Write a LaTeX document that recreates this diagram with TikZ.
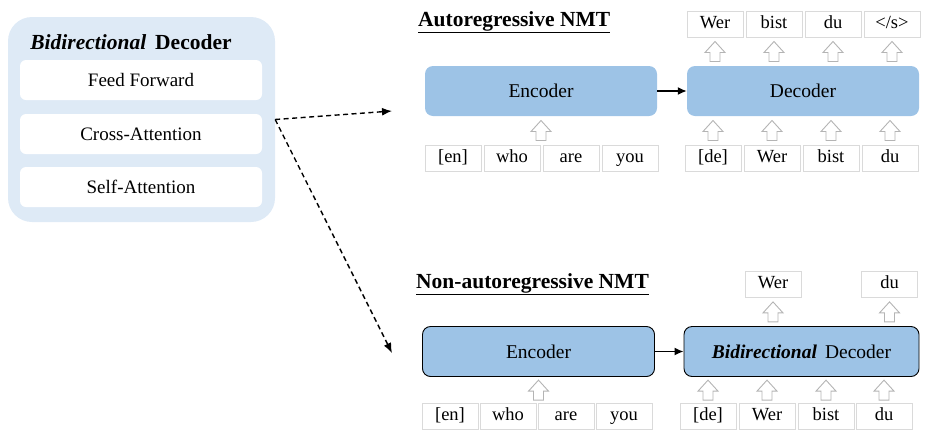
\documentclass[tikz,border=0pt]{standalone}
\usepackage{fontspec}
\setmainfont{Liberation Serif}
\usepackage{tikz}
\usetikzlibrary{arrows.meta}
\usetikzlibrary{positioning}
\usetikzlibrary{calc}

\definecolor{paleblue}{HTML}{DEEAF6}
\definecolor{blockblue}{HTML}{9DC3E6}
\definecolor{tokline}{HTML}{DADADA}
\definecolor{arrline}{HTML}{B4B4B4}

\tikzset{
	bigbox/.style={fill=paleblue,rounded corners=24pt,minimum width=267pt,minimum height=205pt},
	layer/.style={fill=white,rounded corners=6pt,minimum width=242pt,minimum height=40pt,font=\fontsize{19}{22}\selectfont},
	block/.style={fill=blockblue,rounded corners=8pt,minimum width=232pt,minimum height=50pt,font=\fontsize{19.5}{22}\selectfont},
	nblock/.style={block,draw=black,line width=0.9pt},
	tok/.style={draw=tokline,fill=white,minimum width=56pt,minimum height=26pt,inner sep=0pt,
		text height=12pt,text depth=4pt,font=\fontsize{18.5}{21}\selectfont},
	heading/.style={font=\bfseries\fontsize{21.5}{24}\selectfont,inner sep=0pt},
	dasharr/.style={dash pattern=on 5pt off 3.5pt,line width=1.4pt,-{Latex[length=10pt,width=8pt]}},
	solidarr/.style={line width=1.5pt,-{Latex[length=9pt,width=8pt]}},
	uparr/.pic={\draw[arrline,fill=white,line width=0.9pt,line join=miter]
		(-5,10) -- (-5,1) -- (-10,1) -- (0,-10) -- (10,1) -- (5,1) -- (5,10) -- cycle;}
}

\begin{document}
\begin{tikzpicture}
		[x=1pt,y=-1pt]
		\useasboundingbox (0,0) rectangle (939,440);
		
		% left: decoder layers
		\node[bigbox] (bd) at (141.5,119.5) {};
		\node[font=\bfseries\fontsize{21.5}{24}\selectfont] (bdt) at (131,42) {\textit{Bidirectional}\, Decoder};
		\node[layer] (ff) at (141,80) {Feed Forward};
		\node[layer] (ca) at (141,134) {Cross-Attention};
		\node[layer] (sa) at (141,187) {Self-Attention};
		
		\coordinate (toar) at (392,111);
		\coordinate (tonar) at (392,353);
		\draw[dasharr] (bd.east) -- (toar);
		\draw[dasharr] (bd.east) -- (tonar);
		
		% autoregressive
		\node[heading,anchor=west] (arh) at (418,22) {\underline{Autoregressive NMT}};
		\node[block] (aenc) at (541,91) {Encoder};
		\node[block] (adec) at (803,91) {Decoder};
		\draw[solidarr] (aenc) -- (adec);
		
		\foreach \w [count=\i] in {[en],who,are,you}
		\node[tok] (ai\i) at ({394+59*\i},158) {\w};
		\foreach \w [count=\i] in {[de],Wer,bist,du}
		\node[tok] (di\i) at ({654+59*\i},158) {\w};
		\foreach \w [count=\i] in {Wer,bist,du,{</s>}}
		\node[tok] (do\i) at ({656+59*\i},24) {\w};
		
		\pic at ($(aenc.south)!0.5!(aenc.south |- ai1.north)$) {uparr};
		\foreach \i in {1,...,4}
		{
		\pic at ($(di\i.north)!0.5!(di\i.north |- adec.south)$) {uparr};
		\pic at ($(do\i.south)!0.5!(do\i.south |- adec.north)$) {uparr};
		}
		
		% non-autoregressive
		\node[heading,anchor=west] (narh) at (416,284) {\underline{Non-autoregressive NMT}};
		\node[nblock] (nenc) at (538.5,351.5) {Encoder};
		\node[nblock,minimum width=235pt] (ndec) at (801.5,351.5) {\textbf{\textit{Bidirectional}}\, Decoder};
		\draw[solidarr] (nenc) -- (ndec);
		
		\foreach \w [count=\i] in {[en],who,are,you}
		\node[tok] (ni\i) at ({392+58*\i},416.5) {\w};
		\foreach \w/\x [count=\i] in {[de]/708,Wer/767,bist/826,du/884}
		\node[tok] (mi\i) at (\x,416.5) {\w};
		\node[tok] (mo1) at (773,284.5) {Wer};
		\node[tok] (mo2) at (889.5,284.5) {du};
		
		\pic at ($(nenc.south)!0.5!(nenc.south |- ni1.north)$) {uparr};
		\foreach \i in {1,...,4}
		\pic at ($(mi\i.north)!0.5!(mi\i.north |- ndec.south)$) {uparr};
		\foreach \i in {1,2}
		\pic at ($(mo\i.south)!0.5!(mo\i.south |- ndec.north)$) {uparr};
		\end{tikzpicture}
\end{document}
